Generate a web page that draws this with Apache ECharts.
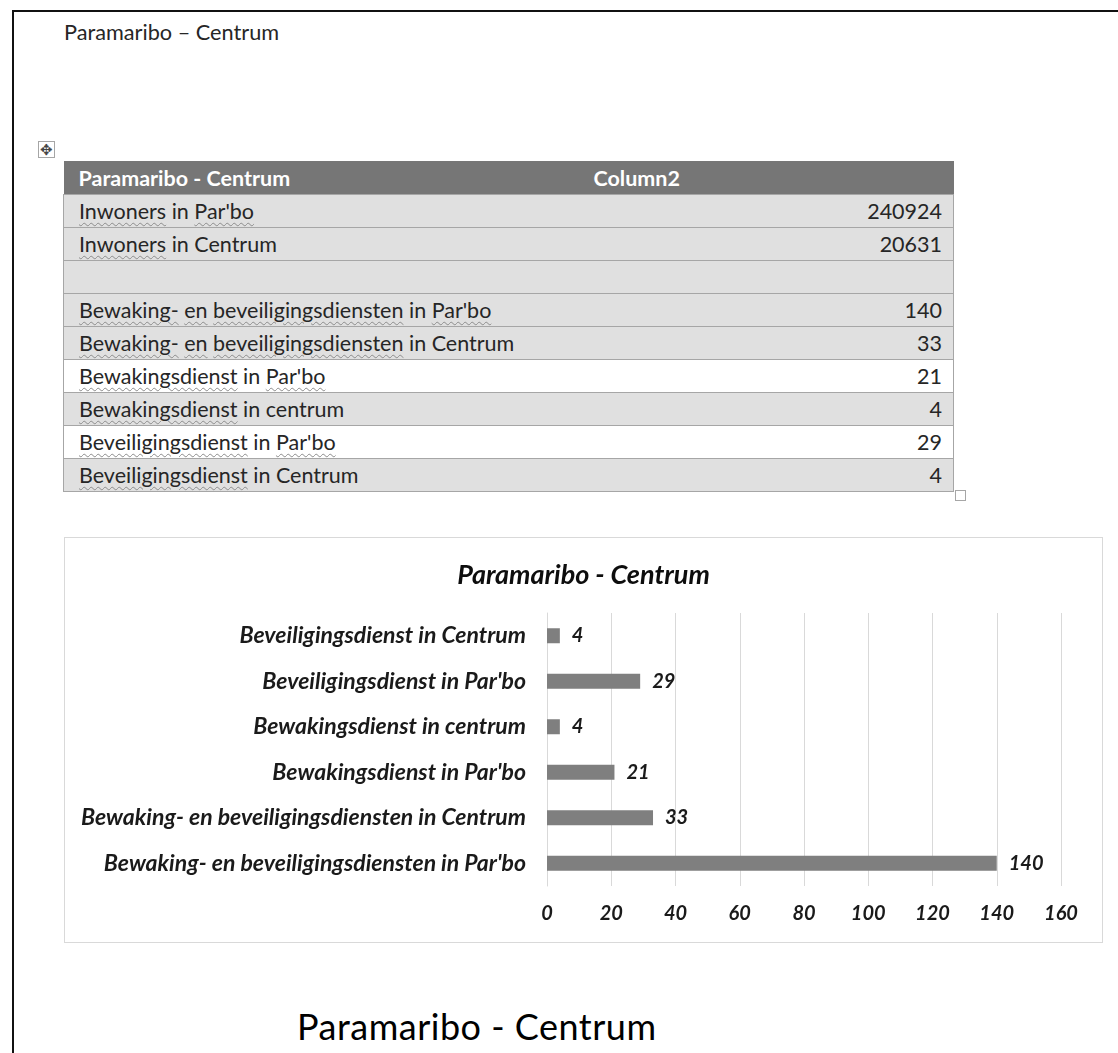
<!DOCTYPE html>
<html>
<head>
<meta charset="utf-8">
<script src="https://cdn.jsdelivr.net/npm/echarts@6/dist/echarts.min.js"></script>
<style>
  html, body { margin: 0; padding: 0; background: #fff; overflow: hidden; }
  body { width: 1118px; height: 1053px; position: relative; font-family: Lato, "Open Sans", sans-serif; color: #262626; }
  .frame { position: absolute; left: 12px; top: 10px; width: 1200px; height: 1100px; border-top: 2px solid #111; border-left: 2px solid #111; }
  .doc-title { position: absolute; left: 64px; top: 18px; font-size: 21.7px; line-height: 28px; }
  .move-handle { position: absolute; left: 38px; top: 141px; width: 15px; height: 15px; border: 1px solid #a6a6a6;
    font-size: 15px; line-height: 15px; text-align: center; color: #444; }
  .size-handle { position: absolute; left: 955px; top: 490px; width: 9px; height: 9px; border: 1px solid #a6a6a6; }
  table { position: absolute; left: 63px; top: 161px; width: 890px; border-collapse: collapse; font-size: 21.5px; table-layout: fixed; }
  th { background: #767676; color: #fff; font-weight: bold; text-align: left; height: 33px; padding: 0 0 0 15px; }
  td { height: 32px; padding: 0 11px 0 15px; border-top: 1px solid #a6a6a6; border-left: 1px solid #a6a6a6; border-right: 1px solid #a6a6a6; background: #e0e0e0; white-space: nowrap; }
  tr.plain td { background: #fff; }
  tr:last-child td { border-bottom: 1px solid #a6a6a6; }
  td.num { text-align: right; border-left: none; }
  td.lbl { border-right: none; }
  .sp { text-decoration: underline wavy #8c8c8c; text-decoration-thickness: 1px; text-underline-offset: 3px; }
  .chart-box { position: absolute; left: 64px; top: 537px; width: 1039px; height: 406px; box-sizing: border-box; border: 1px solid #d9d9d9; }
  #chart { position: absolute; left: 0; top: 0; width: 1037px; height: 404px; }
  .caption { position: absolute; left: 297px; top: 1004px; font-size: 36px; line-height: 44px; color: #000; letter-spacing: 0.5px; }
</style>
</head>
<body>
<div class="frame"></div>
<div class="doc-title">Paramaribo – Centrum</div>
<div class="move-handle">✥</div>
<table id="tbl"></table>
<div class="size-handle"></div>
<div class="chart-box"><div id="chart"></div></div>
<div class="caption">Paramaribo - Centrum</div>

<script>
const tableHeader = ["Paramaribo - Centrum", "Column2"];
const populationLabels = ["Inwoners in Par'bo", "Inwoners in Centrum"];
const populationValues = [240924, 20631];
const serviceLabels = [
  "Bewaking- en beveiligingsdiensten in Par'bo",
  "Bewaking- en beveiligingsdiensten in Centrum",
  "Bewakingsdienst in Par'bo",
  "Bewakingsdienst in centrum",
  "Beveiligingsdienst in Par'bo",
  "Beveiligingsdienst in Centrum"
];
const serviceCounts = [140, 33, 21, 4, 29, 4];
const chartTitle = "Paramaribo - Centrum";
const xTicks = { min: 0, max: 160, step: 20 };

// rows that Word left unshaded, and words the spell checker flagged
const plainRows = [5, 7];
const knownWords = ["in", "Centrum", "centrum"];

function markWords(text) {
  return text.split(" ").map(w => knownWords.includes(w) ? w : '<span class="sp">' + w + '</span>').join(" ");
}

const rows = [];
populationLabels.forEach((l, i) => rows.push([l, populationValues[i]]));
rows.push(["", ""]);
serviceLabels.forEach((l, i) => rows.push([l, serviceCounts[i]]));

let html = '<colgroup><col style="width:515px"><col style="width:375px"></colgroup>';
html += "<tr><th>" + tableHeader[0] + "</th><th>" + tableHeader[1] + "</th></tr>";
rows.forEach((r, i) => {
  html += '<tr class="' + (plainRows.includes(i) ? "plain" : "") + '"><td class="lbl">' + (r[0] ? markWords(r[0]) : "&nbsp;") +
    '</td><td class="num">' + r[1] + "</td></tr>";
});
document.getElementById("tbl").innerHTML = html;

const labelFont = { fontFamily: "Lato", fontSize: 20, fontWeight: "bold", fontStyle: "italic", color: "#1a1a1a" };

const chart = echarts.init(document.getElementById("chart"));
chart.setOption({
  animation: false,
  title: {
    text: chartTitle,
    left: "center",
    top: 19,
    textStyle: { fontFamily: "Lato", fontSize: 27, fontWeight: "bold", fontStyle: "italic", color: "#0d0d0d" }
  },
  grid: { left: 482, right: 41, top: 75, bottom: 56, outerBoundsMode: "none" },
  xAxis: {
    type: "value",
    min: xTicks.min,
    max: xTicks.max,
    interval: xTicks.step,
    axisLine: { show: false },
    axisTick: { show: false },
    splitLine: { show: true, lineStyle: { color: "#d9d9d9", width: 1 } },
    axisLabel: Object.assign({ margin: 18 }, labelFont)
  },
  yAxis: {
    type: "category",
    data: serviceLabels,
    axisLine: { show: true, lineStyle: { color: "#d9d9d9" } },
    axisTick: { show: false },
    axisLabel: Object.assign({ margin: 21 }, labelFont, { fontSize: 23 })
  },
  series: [{
    type: "bar",
    data: serviceCounts,
    barWidth: 15,
    itemStyle: { color: "#7f7f7f" },
    label: Object.assign({ show: true, position: "right", distance: 12 }, labelFont)
  }]
});
</script>
</body>
</html>
